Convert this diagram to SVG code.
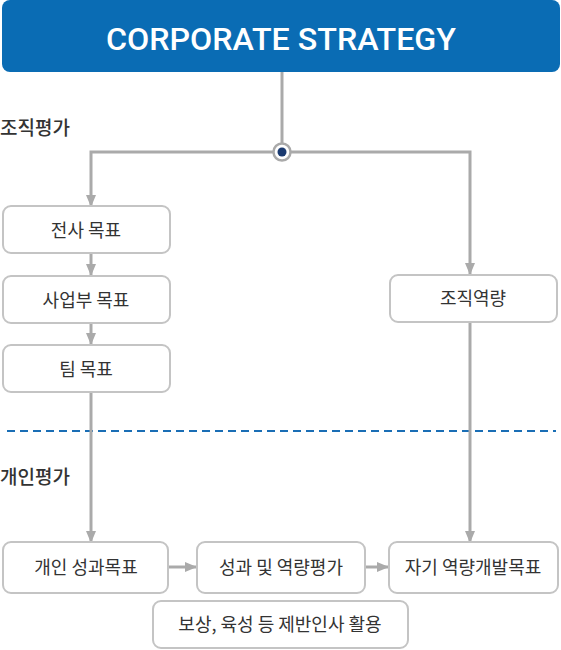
<svg xmlns="http://www.w3.org/2000/svg" width="561" height="650" viewBox="0 0 561 650">
<style>
.box{fill:#fff;stroke:#c4c4c4;stroke-width:2}
.t{font-family:"Noto Sans CJK KR","Noto Sans",sans-serif;font-size:18px;fill:#333;text-anchor:middle}
.lbl{font-family:"Noto Sans CJK KR","Noto Sans",sans-serif;font-size:19px;font-weight:500;fill:#333}
.ln{fill:none;stroke:#aaaaaa;stroke-width:3}
</style>
<defs>
<marker id="ah" viewBox="0 0 12 10" refX="11" refY="5" markerWidth="12" markerHeight="10" markerUnits="userSpaceOnUse" orient="auto">
<path d="M0,0 L12,5 L0,10 Z" fill="#aaaaaa"/>
</marker>
</defs>
<rect width="561" height="650" fill="#fff"/>
<g id="top">
<rect x="2" y="0" width="558" height="72" rx="8" fill="#0a6cb4"/>
<text x="281" y="50" font-family="Roboto,'Liberation Sans',sans-serif" font-size="32" font-weight="500" fill="#fff" text-anchor="middle" textLength="350" lengthAdjust="spacingAndGlyphs">CORPORATE STRATEGY</text>
</g>
<text class="lbl" x="0" y="135">조직평가</text>
<text class="lbl" x="0" y="484">개인평가</text>
<line x1="7" y1="431" x2="556" y2="431" stroke="#1a6eb5" stroke-width="2" stroke-dasharray="8,5"/>
<g id="connectors">
<line class="ln" x1="282" y1="72" x2="282" y2="144"/>
<path class="ln" d="M274,152 H91 V206" marker-end="url(#ah)"/>
<path class="ln" d="M290,152 H470 V274" marker-end="url(#ah)"/>
<line class="ln" x1="91" y1="254" x2="91" y2="275" marker-end="url(#ah)"/>
<line class="ln" x1="91" y1="324" x2="91" y2="344" marker-end="url(#ah)"/>
<line class="ln" x1="91" y1="393" x2="91" y2="542" marker-end="url(#ah)"/>
<line class="ln" x1="470" y1="323" x2="470" y2="542" marker-end="url(#ah)"/>
<line class="ln" x1="169" y1="567" x2="196" y2="567" marker-end="url(#ah)"/>
<line class="ln" x1="366" y1="567" x2="388" y2="567" marker-end="url(#ah)"/>
<circle cx="282" cy="152" r="8.5" fill="#fff" stroke="#aaaaaa" stroke-width="2.5"/>
<circle cx="282" cy="152" r="4.5" fill="#1a3a70"/>
</g>
<g id="n1"><rect class="box" x="3" y="206" width="167" height="47" rx="8"/><text class="t" x="86" y="237">전사 목표</text></g>
<g id="n2"><rect class="box" x="3" y="276" width="167" height="47" rx="8"/><text class="t" x="86" y="307">사업부 목표</text></g>
<g id="n3"><rect class="box" x="3" y="345" width="167" height="47" rx="8"/><text class="t" x="86" y="376">팀 목표</text></g>
<g id="n4"><rect class="box" x="390" y="275" width="167" height="47" rx="8"/><text class="t" x="473" y="305">조직역량</text></g>
<g id="n5"><rect class="box" x="3" y="542" width="165" height="51" rx="8"/><text class="t" x="86" y="574">개인 성과목표</text></g>
<g id="n6"><rect class="box" x="197" y="542" width="168" height="51" rx="8"/><text class="t" x="281" y="574">성과 및 역량평가</text></g>
<g id="n7"><rect class="box" x="389" y="542" width="169" height="51" rx="8"/><text class="t" x="473" y="574">자기 역량개발목표</text></g>
<g id="n8"><rect class="box" x="153" y="601" width="255" height="47" rx="8"/><text class="t" x="280" y="631">보상, 육성 등 제반인사 활용</text></g>
</svg>
